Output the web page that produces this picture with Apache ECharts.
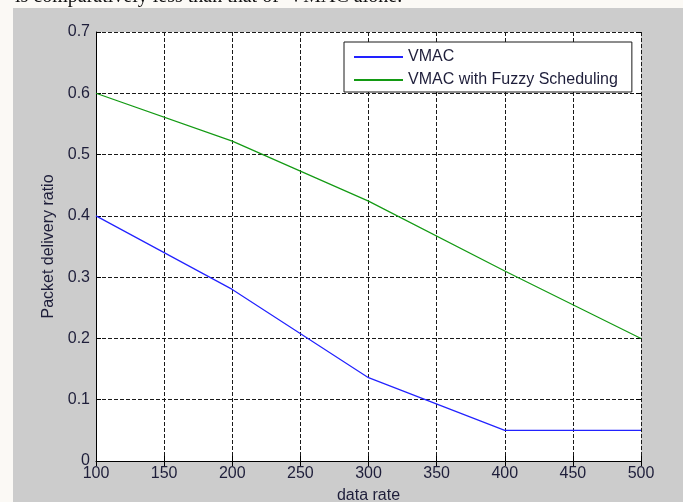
<!DOCTYPE html>
<html>
<head>
<meta charset="utf-8">
<script src="https://cdn.jsdelivr.net/npm/echarts@6/dist/echarts.min.js"></script>
<style>
  html, body { margin: 0; padding: 0; width: 683px; height: 502px; overflow: hidden; background: #fbf9f5; }
  #panel { position: absolute; left: 13px; top: 8px; width: 670px; height: 494px; background: #cccccc; }
  #chart { position: absolute; left: 0; top: 0; width: 683px; height: 502px; }
</style>
</head>
<body>
<div id="panel"></div>
<div id="chart"></div>
<script>
// Data
const dataRates = [100, 200, 300, 400, 500];
const vmac = [0.40, 0.28, 0.136, 0.05, 0.05];
const vmacFuzzy = [0.60, 0.522, 0.424, 0.31, 0.20];
const seriesNames = ['VMAC', 'VMAC with Fuzzy Scheduling'];
const xTicks = { min: 100, max: 500, interval: 50 };
const yTicks = { min: 0, max: 0.7, interval: 0.1 };
const xName = 'data rate';
const yName = 'Packet delivery ratio';
const captionText = 'is comparatively less than that of  VMAC alone.';

const pairs = (xs, ys) => xs.map((x, i) => [x, ys[i]]);
const FONT = "'Liberation Sans', Arial, Helvetica, sans-serif";
const TXT = '#1e1e3a';
const gridDash = { color: '#1a1a1a', width: 1, type: [4, 2] };
const BLUE = '#2222ff';
const GREEN = '#139a13';

const chart = echarts.init(document.getElementById('chart'), null, { renderer: 'canvas' });
chart.setOption({
  animation: false,
  backgroundColor: 'transparent',
  textStyle: { fontFamily: FONT },
  graphic: [{
    type: 'text',
    left: 15,
    top: -13,
    silent: true,
    style: { text: captionText, font: "20px 'Liberation Serif', 'Times New Roman', serif", fill: '#111' }
  }],
  grid: {
    left: 96, right: 42, top: 32, bottom: 41,
    show: true, backgroundColor: '#ffffff', borderWidth: 0,
    containLabel: false, outerBoundsMode: 'none'
  },
  legend: {
    left: 344, top: 42,
    orient: 'vertical',
    backgroundColor: '#ffffff',
    borderColor: '#1a1a1a', borderWidth: 1,
    padding: [7, 14, 4, 10],
    itemGap: 7,
    itemWidth: 49, itemHeight: 2,
    textStyle: { fontFamily: FONT, fontSize: 16, color: TXT, lineHeight: 16 },
    data: [
      { name: seriesNames[0], icon: 'rect', itemStyle: { color: BLUE } },
      { name: seriesNames[1], icon: 'rect', itemStyle: { color: GREEN } }
    ]
  },
  xAxis: [{
    type: 'value',
    min: xTicks.min, max: xTicks.max, interval: xTicks.interval,
    name: xName, nameLocation: 'middle', nameGap: 27,
    nameTextStyle: { fontFamily: FONT, fontSize: 16, color: TXT },
    axisLine: { show: true, onZero: false, lineStyle: { color: '#000', width: 1 } },
    axisTick: { show: true, inside: true, length: 5, lineStyle: { color: '#000' } },
    axisLabel: { fontFamily: FONT, fontSize: 16, color: TXT, margin: 5 },
    splitLine: { show: true, lineStyle: gridDash }
  }, {
    type: 'value', position: 'top',
    min: xTicks.min, max: xTicks.max, interval: xTicks.interval,
    axisLine: { show: false },
    axisTick: { show: true, inside: true, length: 5, lineStyle: { color: '#000' } },
    axisLabel: { show: false },
    splitLine: { show: false }
  }],
  yAxis: [{
    type: 'value',
    min: yTicks.min, max: yTicks.max, interval: yTicks.interval,
    name: yName, nameLocation: 'middle', nameGap: 39,
    nameTextStyle: { fontFamily: FONT, fontSize: 16, color: TXT },
    axisLine: { show: true, onZero: false, lineStyle: { color: '#000', width: 1 } },
    axisTick: { show: true, inside: true, length: 5, lineStyle: { color: '#000' } },
    axisLabel: { fontFamily: FONT, fontSize: 16, color: TXT, margin: 6, formatter: v => (v === 0 ? '0' : v.toFixed(1)) },
    splitLine: { show: true, lineStyle: gridDash }
  }, {
    type: 'value', position: 'right',
    min: yTicks.min, max: yTicks.max, interval: yTicks.interval,
    axisLine: { show: false },
    axisTick: { show: true, inside: true, length: 5, lineStyle: { color: '#000' } },
    axisLabel: { show: false },
    splitLine: { show: false }
  }],
  series: [{
    name: seriesNames[0], type: 'line',
    xAxisIndex: 0, yAxisIndex: 0,
    data: pairs(dataRates, vmac),
    symbol: 'none', showSymbol: false,
    lineStyle: { color: BLUE, width: 1.2 },
    itemStyle: { color: BLUE },
    z: 5
  }, {
    name: seriesNames[1], type: 'line',
    xAxisIndex: 0, yAxisIndex: 0,
    data: pairs(dataRates, vmacFuzzy),
    symbol: 'none', showSymbol: false,
    lineStyle: { color: GREEN, width: 1.2 },
    itemStyle: { color: GREEN },
    z: 5
  }]
});
</script>
</body>
</html>
